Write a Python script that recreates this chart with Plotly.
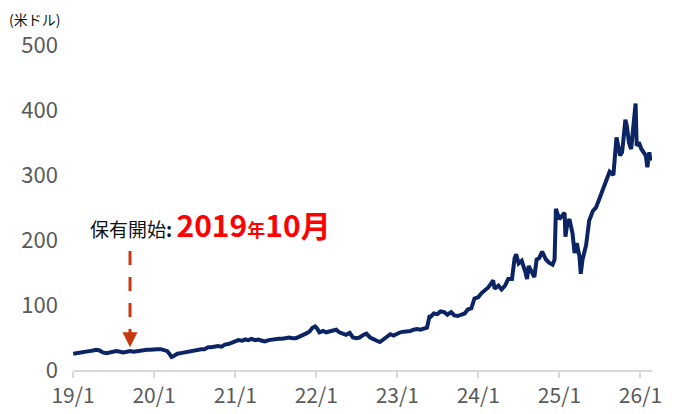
import plotly.graph_objects as go

dates = [
    "2019-01-02","2019-01-15","2019-02-01","2019-02-15","2019-03-01","2019-03-15","2019-04-01","2019-04-15",
    "2019-05-01","2019-05-15","2019-06-01","2019-06-15","2019-07-01","2019-07-15","2019-08-01","2019-08-15",
    "2019-09-01","2019-09-15","2019-10-01","2019-10-15","2019-11-01","2019-11-15","2019-12-01","2019-12-15",
    "2020-01-01","2020-01-15","2020-02-01","2020-02-15","2020-03-01","2020-03-10","2020-03-20","2020-04-01",
    "2020-04-15","2020-05-01","2020-05-15","2020-06-01","2020-06-15","2020-07-01","2020-07-15","2020-08-01",
    "2020-08-15","2020-09-01","2020-09-15","2020-10-01","2020-10-15","2020-11-01","2020-11-15","2020-12-01",
    "2020-12-15",
    "2021-01-01","2021-01-15","2021-02-01","2021-02-15","2021-03-01","2021-03-15","2021-04-01","2021-04-15",
    "2021-05-01","2021-05-15","2021-06-01","2021-06-15","2021-07-01","2021-07-15","2021-08-01","2021-08-15",
    "2021-09-01","2021-09-15","2021-10-01","2021-10-15","2021-11-01","2021-11-15","2021-12-01","2021-12-15",
    "2021-12-27",
    "2022-01-05","2022-01-15","2022-02-01","2022-02-15","2022-03-01","2022-03-15","2022-04-01","2022-04-15",
    "2022-05-01","2022-05-15","2022-06-01","2022-06-15","2022-07-01","2022-07-15","2022-08-01","2022-08-15",
    "2022-09-01","2022-09-15","2022-10-01","2022-10-15","2022-11-01","2022-11-15","2022-12-01","2022-12-15",
    "2023-01-01","2023-01-15","2023-02-01","2023-02-15","2023-03-01","2023-03-15","2023-04-01","2023-04-15",
    "2023-05-01","2023-05-15","2023-05-26","2023-06-01","2023-06-15","2023-07-01","2023-07-15","2023-08-01",
    "2023-08-15","2023-09-01","2023-09-15","2023-10-01","2023-10-15","2023-11-01","2023-11-15","2023-12-01",
    "2023-12-15",
    "2024-01-01","2024-01-15","2024-02-01","2024-02-15","2024-03-01","2024-03-08","2024-03-15","2024-04-01",
    "2024-04-15","2024-05-01","2024-05-15","2024-06-01","2024-06-13","2024-06-20","2024-07-01","2024-07-15",
    "2024-08-01","2024-08-08","2024-08-15","2024-09-01","2024-09-10","2024-09-20","2024-10-01","2024-10-15",
    "2024-11-01","2024-11-15","2024-12-01","2024-12-10","2024-12-13","2024-12-16","2024-12-31",
    "2025-01-15","2025-01-24","2025-01-28","2025-02-05","2025-02-15","2025-03-01","2025-03-10","2025-03-20",
    "2025-04-01","2025-04-07","2025-04-15","2025-05-01","2025-05-15","2025-06-01","2025-06-15","2025-07-01",
    "2025-07-15","2025-08-01","2025-08-15","2025-09-01","2025-09-08","2025-09-15","2025-10-01","2025-10-10",
    "2025-10-15","2025-10-25","2025-11-01","2025-11-10","2025-11-20","2025-12-01","2025-12-10","2025-12-15",
    "2025-12-25",
    "2026-01-05","2026-01-15","2026-01-25","2026-02-01","2026-02-10","2026-02-15",
]
prices = [
    25, 26, 27, 28, 28, 29, 30, 31,
    30, 27, 26, 27, 28, 29, 28, 27,
    28, 29, 28, 29, 30, 31, 31, 31,
    32, 32, 32, 31, 29, 25, 20, 22,
    25, 26, 27, 29, 30, 31, 31, 32,
    32, 35, 35, 36, 37, 36, 39, 40,
    42,
    44, 46, 45, 47, 46, 48, 46, 47,
    45, 44, 46, 47, 48, 48, 48, 49,
    50, 49, 49, 51, 53, 56, 59, 65,
    67,
    64, 58, 60, 58, 59, 60, 62, 58,
    56, 54, 57, 50, 49, 50, 54, 56,
    50, 47, 45, 43, 47, 51, 55, 53,
    56, 58, 59, 59, 60, 62, 63, 62,
    63, 65, 82, 82, 87, 86, 90, 89,
    85, 89, 84, 83, 85, 87, 93, 95,
    110,
    112, 118, 123, 127, 134, 138, 125, 130,
    124, 130, 140, 140, 172, 178, 164, 168,
    150, 140, 160, 150, 143, 170, 172, 182,
    170, 165, 162, 170, 225, 248, 232,
    238, 242, 205, 225, 232, 210, 180, 195,
    175, 148, 170, 192, 230, 245, 250, 265,
    280, 292, 305, 300, 335, 358, 330, 335,
    350, 385, 375, 350, 340, 380, 410, 345,
    350,
    340, 335, 330, 312, 335, 322,
]
x_ticks = ["2019-01-01","2020-01-01","2021-01-01","2022-01-01","2023-01-01","2024-01-01","2025-01-01","2026-01-01"]
x_labels = ["19/1","20/1","21/1","22/1","23/1","24/1","25/1","26/1"]
y_ticks = [0, 100, 200, 300, 400, 500]
marker_date = "2019-09-15"

FONT = "Noto Sans CJK JP"
fig = go.Figure()
fig.add_trace(go.Scatter(x=dates, y=prices, mode="lines",
                         line=dict(color="#0b2463", width=4), hoverinfo="skip"))

# dashed arrow shaft
fig.add_shape(type="line", xref="x", yref="y", x0=marker_date, x1=marker_date, y0=183, y1=48,
              line=dict(color="#c8380f", width=3, dash="14px,12px"))
# arrow head
fig.add_annotation(x=marker_date, y=35, xref="x", yref="y", ax=0, ay=-17, text="",
                   showarrow=True, arrowhead=2, arrowsize=1.0, arrowwidth=3, arrowcolor="#c8380f",
                   standoff=0)

fig.add_annotation(
    xref="x", yref="y", x="2019-03-08", y=224, xanchor="left", yanchor="middle", showarrow=False,
    text="保有開始<b>:</b> <span style='color:#ff0000;font-size:30px'><b>2019</b><span style='font-size:18px'><b>年</b></span><b>10月</b></span>",
    font=dict(family=FONT, size=19, color="#111111"))

fig.add_annotation(xref="paper", yref="paper", x=-0.112, y=1.1138, xanchor="left", yanchor="top",
                   showarrow=False, borderpad=0, text="(米ドル)",
                   font=dict(family=FONT, size=14, color="#111111"))

fig.update_layout(
    width=672, height=406, margin=dict(l=65, r=28, t=37, b=44),
    paper_bgcolor="white", plot_bgcolor="white", showlegend=False,
    font=dict(family=FONT, color="#595959"),
)
fig.update_xaxes(range=["2019-01-01", "2026-02-22"], tickvals=x_ticks, ticktext=x_labels,
                 showgrid=False, showline=True, linecolor="#d9d9d9", linewidth=2,
                 ticks="outside", ticklen=6, tickcolor="#d9d9d9", tickwidth=1.5, automargin=False,
                 tickfont=dict(family=FONT, size=21, color="#595959"), zeroline=False)
fig.update_yaxes(range=[0, 500], tickvals=y_ticks, showgrid=False, showline=False, zeroline=False,
                 ticks="", ticklabelstandoff=14, automargin=False,
                 tickfont=dict(family=FONT, size=22, color="#595959"))

fig.write_html("out.html")
